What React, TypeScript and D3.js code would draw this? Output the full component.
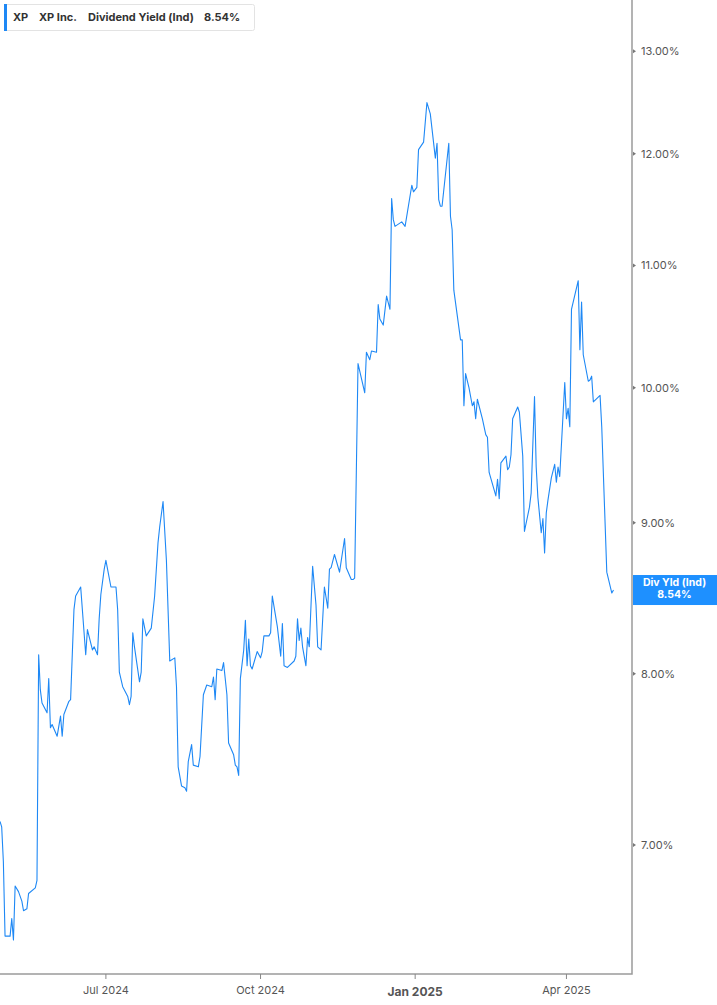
import { useEffect, useRef } from "react";
import * as d3 from "d3";

// Dividend yield (ind) for XP Inc.
const dates = [
  "2024-04-29", "2024-04-30", "2024-05-01", "2024-05-02", "2024-05-05", "2024-05-06", "2024-05-07", "2024-05-08",
  "2024-05-10", "2024-05-12", "2024-05-13", "2024-05-15", "2024-05-16", "2024-05-20", "2024-05-21", "2024-05-22",
  "2024-05-23", "2024-05-24", "2024-05-27", "2024-05-28", "2024-05-29", "2024-05-30", "2024-06-02", "2024-06-04",
  "2024-06-05", "2024-06-06", "2024-06-09", "2024-06-10", "2024-06-12", "2024-06-13", "2024-06-16", "2024-06-19",
  "2024-06-20", "2024-06-23", "2024-06-24", "2024-06-26", "2024-06-27", "2024-06-28", "2024-06-30", "2024-07-01",
  "2024-07-04", "2024-07-07", "2024-07-08", "2024-07-09", "2024-07-11", "2024-07-14", "2024-07-15", "2024-07-16",
  "2024-07-17", "2024-07-18", "2024-07-21", "2024-07-22", "2024-07-23", "2024-07-25", "2024-07-28", "2024-07-30",
  "2024-08-01", "2024-08-02", "2024-08-04", "2024-08-06", "2024-08-08", "2024-08-11", "2024-08-12", "2024-08-13",
  "2024-08-15", "2024-08-17", "2024-08-18", "2024-08-19", "2024-08-21", "2024-08-22", "2024-08-25", "2024-08-26",
  "2024-08-28", "2024-08-30", "2024-09-02", "2024-09-03", "2024-09-04", "2024-09-05", "2024-09-08", "2024-09-09",
  "2024-09-11", "2024-09-12", "2024-09-15", "2024-09-16", "2024-09-17", "2024-09-18", "2024-09-19", "2024-09-21",
  "2024-09-22", "2024-09-23", "2024-09-24", "2024-09-25", "2024-09-26", "2024-09-29", "2024-10-01", "2024-10-02",
  "2024-10-03", "2024-10-06", "2024-10-07", "2024-10-08", "2024-10-11", "2024-10-13", "2024-10-14", "2024-10-15",
  "2024-10-17", "2024-10-21", "2024-10-22", "2024-10-23", "2024-10-24", "2024-10-25", "2024-10-26", "2024-10-28",
  "2024-10-29", "2024-10-30", "2024-11-01", "2024-11-03", "2024-11-04", "2024-11-06", "2024-11-08", "2024-11-10",
  "2024-11-11", "2024-11-12", "2024-11-14", "2024-11-17", "2024-11-20", "2024-11-21", "2024-11-24", "2024-11-25",
  "2024-11-26", "2024-11-28", "2024-12-02", "2024-12-03", "2024-12-05", "2024-12-06", "2024-12-09", "2024-12-10",
  "2024-12-11", "2024-12-13", "2024-12-15", "2024-12-17", "2024-12-18", "2024-12-19", "2024-12-20", "2024-12-24",
  "2024-12-26", "2024-12-30", "2024-12-31", "2025-01-02", "2025-01-03", "2025-01-06", "2025-01-08", "2025-01-10",
  "2025-01-13", "2025-01-14", "2025-01-15", "2025-01-16", "2025-01-17", "2025-01-21", "2025-01-22", "2025-01-23",
  "2025-01-24", "2025-01-28", "2025-01-29", "2025-01-30", "2025-01-31", "2025-02-02", "2025-02-04", "2025-02-05",
  "2025-02-06", "2025-02-07", "2025-02-10", "2025-02-12", "2025-02-13", "2025-02-14", "2025-02-18", "2025-02-19",
  "2025-02-20", "2025-02-21", "2025-02-24", "2025-02-25", "2025-02-26", "2025-02-27", "2025-02-28", "2025-03-03",
  "2025-03-04", "2025-03-06", "2025-03-07", "2025-03-10", "2025-03-11", "2025-03-13", "2025-03-14", "2025-03-15",
  "2025-03-17", "2025-03-18", "2025-03-19", "2025-03-20", "2025-03-21", "2025-03-23", "2025-03-25", "2025-03-26",
  "2025-03-27", "2025-03-28", "2025-03-31", "2025-04-01", "2025-04-02", "2025-04-03", "2025-04-04", "2025-04-08",
  "2025-04-09", "2025-04-10", "2025-04-11", "2025-04-14", "2025-04-15", "2025-04-16", "2025-04-17", "2025-04-21",
  "2025-04-22", "2025-04-25", "2025-04-28", "2025-04-29",
];

const yields = [
  7.13, 7.10, 6.91, 6.52, 6.52, 6.61, 6.50, 6.78,
  6.75, 6.70, 6.65, 6.66, 6.74, 6.77, 6.81, 8.12,
  7.90, 7.82, 7.76, 7.97, 7.67, 7.69, 7.62, 7.74,
  7.62, 7.75, 7.83, 7.84, 8.41, 8.50, 8.56, 8.12,
  8.28, 8.15, 8.17, 8.12, 8.35, 8.51, 8.68, 8.74,
  8.56, 8.56, 8.41, 8.01, 7.92, 7.86, 7.81, 7.86,
  8.26, 8.17, 7.95, 8.01, 8.35, 8.24, 8.29, 8.50,
  8.86, 8.97, 9.15, 8.74, 8.08, 8.10, 7.92, 7.44,
  7.33, 7.32, 7.30, 7.47, 7.57, 7.45, 7.44, 7.50,
  7.87, 7.93, 7.92, 7.98, 7.84, 8.03, 8.02, 8.07,
  7.87, 7.58, 7.51, 7.45, 7.44, 7.39, 7.97, 8.15,
  8.34, 8.05, 8.22, 8.05, 8.03, 8.14, 8.10, 8.14,
  8.24, 8.24, 8.26, 8.50, 8.30, 8.11, 8.32, 8.05,
  8.04, 8.08, 8.11, 8.35, 8.21, 8.29, 8.17, 8.05,
  8.23, 8.17, 8.70, 8.44, 8.17, 8.15, 8.56, 8.42,
  8.68, 8.69, 8.78, 8.66, 8.89, 8.69, 8.61, 8.61,
  8.62, 10.19, 9.96, 10.28, 10.22, 10.29, 10.28, 10.67,
  10.55, 10.50, 10.74, 10.63, 11.59, 11.40, 11.34, 11.38,
  11.34, 11.71, 11.65, 11.69, 12.04, 12.11, 12.49, 12.38,
  11.96, 12.10, 11.58, 11.52, 11.52, 12.10, 11.43, 11.31,
  10.79, 10.38, 10.38, 9.86, 10.11, 10.00, 9.86, 9.89,
  9.76, 9.91, 9.76, 9.64, 9.62, 9.36, 9.19, 9.31,
  9.17, 9.43, 9.48, 9.38, 9.40, 9.49, 9.76, 9.85,
  9.81, 9.48, 8.94, 9.11, 9.21, 9.93, 9.40, 9.18,
  8.93, 9.03, 8.79, 9.07, 9.16, 9.32, 9.42, 9.29,
  9.40, 9.33, 10.04, 9.76, 9.84, 9.70, 10.63, 10.87,
  10.30, 10.69, 10.26, 10.05, 10.06, 10.09, 9.89, 9.94,
  9.70, 8.66, 8.52, 8.54,
];

const yTicks = [7, 8, 9, 10, 11, 12, 13];
const xTicks = ["2024-07-01", "2024-10-01", "2025-01-01", "2025-04-01"];
const xTickLabels = ["Jul 2024", "Oct 2024", "Jan 2025", "Apr 2025"];

const App = () => {
  const ref = useRef<SVGSVGElement | null>(null);

  useEffect(() => {
    const width = 717;
    const height = 1005;
    const plotW = 632;
    const plotH = 974;
    const font = "Inter, Roboto, 'DejaVu Sans', sans-serif";
    const parse = d3.timeParse("%Y-%m-%d");

    const svg = d3.select(ref.current);
    svg.selectAll("*").remove();
    svg.attr("width", width).attr("height", height);

    const data = dates.map((d, i) => ({ date: parse(d) as Date, value: yields[i] }));

    const x = d3
      .scaleTime()
      .domain([parse("2024-04-29") as Date, parse("2025-05-10") as Date])
      .range([0, plotW]);

    const y = d3.scaleLog().domain([6.33, 13.53]).range([plotH, 0]);

    // line
    const line = d3
      .line<{ date: Date; value: number }>()
      .x((d) => x(d.date))
      .y((d) => y(d.value));

    svg
      .append("path")
      .datum(data)
      .attr("d", line)
      .attr("fill", "none")
      .attr("stroke", "#1e88f5")
      .attr("stroke-width", 1.1)
      .attr("stroke-linejoin", "round");

    // axes frame
    svg
      .append("path")
      .attr("d", `M0,${plotH}H${plotW}V0`)
      .attr("fill", "none")
      .attr("stroke", "#9a9a9a")
      .attr("stroke-width", 1.5);

    // y ticks (right)
    const yg = svg.append("g");
    yTicks.forEach((t) => {
      const ty = y(t);
      yg.append("path")
        .attr("d", `M${plotW + 1},${ty - 2}L${plotW + 4},${ty}L${plotW + 1},${ty + 2}Z`)
        .attr("fill", "#777");
      yg.append("text")
        .attr("x", plotW + 9)
        .attr("y", ty)
        .attr("dy", "0.35em")
        .attr("font-family", font)
        .attr("font-size", 11)
        .attr("fill", "#555")
        .text(`${t.toFixed(2)}%`);
    });

    // x ticks
    const xg = svg.append("g");
    xTicks.forEach((t, i) => {
      const tx = x(parse(t) as Date);
      const isYear = xTickLabels[i].startsWith("Jan");
      xg.append("line")
        .attr("x1", tx)
        .attr("x2", tx)
        .attr("y1", plotH)
        .attr("y2", plotH + 5)
        .attr("stroke", "#888");
      xg.append("text")
        .attr("x", tx)
        .attr("y", isYear ? plotH + 22 : plotH + 20)
        .attr("text-anchor", "middle")
        .attr("font-family", font)
        .attr("font-size", isYear ? 12 : 11)
        .attr("font-weight", isYear ? "bold" : "normal")
        .attr("fill", "#555")
        .text(xTickLabels[i]);
    });

    // last value badge
    const last = data[data.length - 1];
    const by = y(last.value);
    svg
      .append("rect")
      .attr("x", plotW + 1)
      .attr("y", by - 15)
      .attr("width", width - plotW - 1)
      .attr("height", 30)
      .attr("fill", "#1e90ff");
    svg
      .append("text")
      .attr("x", (plotW + width) / 2)
      .attr("y", by - 4)
      .attr("text-anchor", "middle")
      .attr("font-family", font)
      .attr("font-size", 10.5)
      .attr("font-weight", "bold")
      .attr("fill", "#fff")
      .text("Div Yld (Ind)");
    svg
      .append("text")
      .attr("x", (plotW + width) / 2)
      .attr("y", by + 8)
      .attr("text-anchor", "middle")
      .attr("font-family", font)
      .attr("font-size", 10.5)
      .attr("font-weight", "bold")
      .attr("fill", "#fff")
      .text(`${last.value.toFixed(2)}%`);

    // legend header
    const lg = svg.append("g");
    lg.append("rect")
      .attr("x", 4.5)
      .attr("y", 4.5)
      .attr("width", 250)
      .attr("height", 26)
      .attr("rx", 2)
      .attr("fill", "#fff")
      .attr("stroke", "#e3e3e3");
    lg.append("rect").attr("x", 4).attr("y", 4).attr("width", 3).attr("height", 27).attr("fill", "#1e88f5");
    const headerParts: [string, number][] = [
      ["XP", 13],
      ["XP Inc.", 39],
      ["Dividend Yield (Ind)", 88],
      [`${last.value.toFixed(2)}%`, 204],
    ];
    headerParts.forEach(([s, hx]) => {
      lg.append("text")
        .attr("x", hx)
        .attr("y", 21)
        .attr("font-family", font)
        .attr("font-size", 11)
        .attr("font-weight", "bold")
        .attr("fill", "#333")
        .text(s);
    });
  }, []);

  return <svg ref={ref} style={{ position: "absolute", left: 0, top: 0 }} />;
};

export default App;
